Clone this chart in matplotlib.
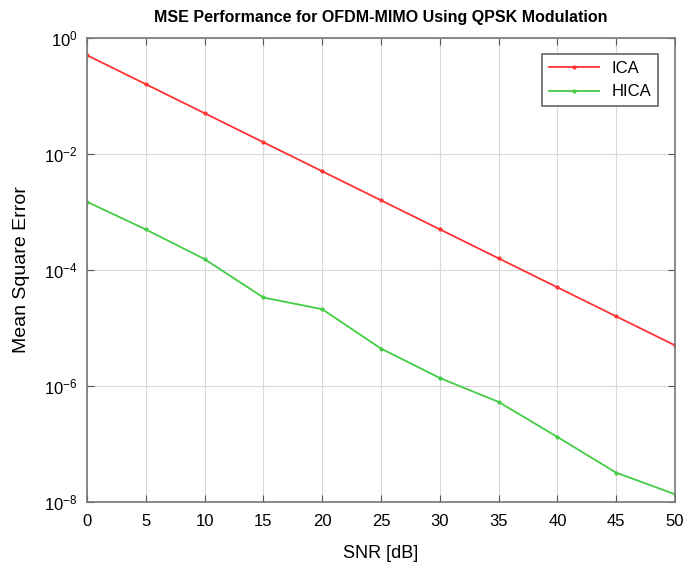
import numpy as np
import matplotlib.pyplot as plt
from matplotlib.ticker import NullLocator

plt.rcParams['font.family'] = ['Liberation Sans', 'DejaVu Sans']
plt.rcParams['axes.unicode_minus'] = False

snr = [0, 5, 10, 15, 20, 25, 30, 35, 40, 45, 50]
mse_ica = [0.5, 0.158, 0.05, 0.0158, 0.005, 0.00158, 0.0005, 0.000158, 0.00005, 0.0000158, 0.000005]
mse_hica = [1.49e-3, 4.97e-4, 1.53e-4, 3.34e-5, 2.1e-5, 4.4e-6, 1.37e-6, 5.3e-7, 1.32e-7, 3.2e-8, 1.36e-8]
yticks = [1e-8, 1e-6, 1e-4, 1e-2, 1e0]

fig = plt.figure(figsize=(6.87, 5.68), dpi=100)
ax = fig.add_axes([0.1266, 0.1162, 0.8559, 0.8174])

ax.semilogy(snr, mse_ica, color='#ff3333', marker='.', markersize=4, lw=1.3, label='ICA')
ax.semilogy(snr, mse_hica, color='#44cc44', marker='.', markersize=4, lw=1.3, label='HICA')

ax.set_xlim(0, 50)
ax.set_ylim(1e-8, 1e0)
ax.set_xticks(snr)
ax.set_yticks(yticks)
ax.yaxis.set_minor_locator(NullLocator())
ax.grid(True, color='#d8d8d8', lw=0.8)
ax.tick_params(direction='in', top=True, right=True, labelsize=12, length=5, color='#555555')
ax.tick_params(axis='x', pad=9)
ax.tick_params(axis='y', pad=7)
for s in ax.spines.values():
    s.set_color('#777777')
    s.set_linewidth(1.2)

ax.set_xlabel('SNR [dB]', fontsize=13, labelpad=11)
ax.set_ylabel('Mean Square Error', fontsize=14, labelpad=10)
ax.set_title('MSE Performance for OFDM-MIMO Using QPSK Modulation', fontsize=11.5, fontweight='bold', pad=11)

leg = ax.legend(loc='upper right', fontsize=12, fancybox=False, framealpha=1,
                borderaxespad=1.0, handlelength=3.0, edgecolor='#666666')
leg.get_frame().set_linewidth(1.2)

fig.savefig('out.png', dpi=100)
